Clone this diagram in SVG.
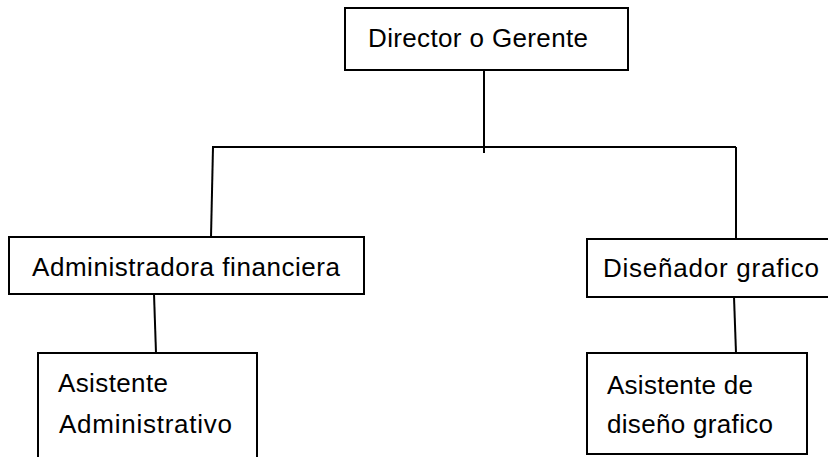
<svg xmlns="http://www.w3.org/2000/svg" width="828" height="457" viewBox="0 0 828 457">
<style>
.box{fill:#fff;stroke:#000;stroke-width:2}
.ln{stroke:#000;stroke-width:2;fill:none}
text{font-family:"Liberation Sans",Arial,sans-serif;font-size:26px;fill:#000}
</style>
<rect width="828" height="457" fill="#fff"/>
<g id="connectors">
<line class="ln" x1="484" y1="70" x2="484" y2="153"/>
<line class="ln" x1="212" y1="147" x2="736" y2="147"/>
<line class="ln" x1="213" y1="147" x2="211" y2="237"/>
<line class="ln" x1="736" y1="147" x2="736" y2="239"/>
<line class="ln" x1="154" y1="294" x2="156" y2="353"/>
<line class="ln" x1="734" y1="297" x2="736" y2="353"/>
</g>
<g id="director">
<rect class="box" x="345" y="8" width="283" height="62"/>
<text x="368" y="47" textLength="220">Director o Gerente</text>
</g>
<g id="admin-financiera">
<rect class="box" x="9" y="237" width="355" height="57"/>
<text x="32" y="276" textLength="308">Administradora financiera</text>
</g>
<g id="disenador">
<rect class="box" x="587" y="239" width="250" height="58"/>
<text x="603" y="277" textLength="216">Diseñador grafico</text>
</g>
<g id="asistente-admin">
<rect class="box" x="38" y="353" width="219" height="120"/>
<text x="58" y="392" textLength="110">Asistente</text>
<text x="59" y="433" textLength="173">Administrativo</text>
</g>
<g id="asistente-diseno">
<rect class="box" x="587" y="353" width="220" height="101"/>
<text x="607" y="394" textLength="146">Asistente de</text>
<text x="607" y="433" textLength="166">diseño grafico</text>
</g>
</svg>
